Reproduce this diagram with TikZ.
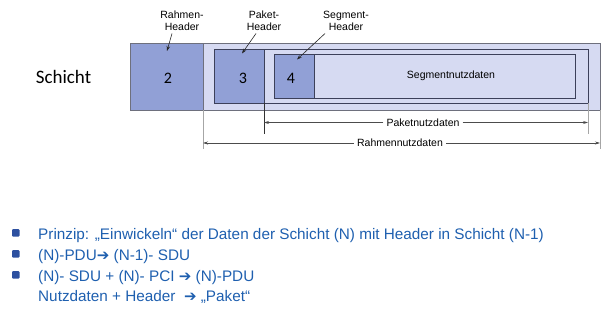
\documentclass[tikz,border=0pt]{standalone}
\usepackage{fontspec}
\setmainfont{Liberation Sans}
\newfontfamily\calfont{Carlito}
\newfontfamily\symfont{DejaVu Sans Bold}
\usetikzlibrary{arrows.meta}
\definecolor{hdrfill}{RGB}{145,160,214}
\definecolor{datafill}{RGB}{214,218,242}
\definecolor{boxline}{RGB}{60,64,90}
\definecolor{outerline}{RGB}{110,112,125}
\definecolor{txtblue}{RGB}{30,95,175}
\definecolor{bulletblue}{RGB}{45,80,160}
\newcommand{\bigarrow}{{\symfont\fontsize{15}{15}\selectfont ➔}}
\tikzset{
  hdr/.style={fill=hdrfill, draw=boxline, line width=0.8pt},
  payload/.style={fill=datafill, draw=boxline, line width=0.8pt},
  lbl/.style={font=\fontsize{10.5}{11.7}\selectfont, align=center, inner sep=0pt},
  num/.style={font=\calfont\fontsize{16}{16}\selectfont, inner sep=0pt},
  ptr/.style={-{Stealth[length=5pt,width=3.5pt]}, line width=0.6pt, draw=black!85},
  dimline/.style={-{Stealth[length=5pt,width=3pt]}, line width=0.6pt, draw=black!70},
  tick/.style={line width=0.9pt},
  bul/.style={fill=bulletblue, rounded corners=1pt},
  item/.style={font=\fontsize{15.3}{17}\selectfont, text=txtblue, anchor=base west, inner sep=0pt, align=left}
}
\begin{document}
\begin{tikzpicture}[x=1pt,y=-1pt]
\useasboundingbox (0,0) rectangle (601,315);

% frame: header 2 + payload
\draw[payload, draw=outerline] (130,43) rectangle (600,110);
\draw[hdr, draw=outerline] (130,43) rectangle (203,110);
% packet: header 3 + payload
\draw[payload] (214,49) rectangle (588,103);
\draw[hdr] (214,49) rectangle (264,103);
% segment: header 4 + payload
\draw[payload] (274,54.5) rectangle (575,98);
\draw[hdr] (274,54.5) rectangle (314,98);

\node[num] (n2) at (168,78) {2};
\node[num] (n3) at (243,78) {3};
\node[num] (n4) at (291,78) {4};
\node[lbl] (segdata) at (451,76) {Segmentnutzdaten};
\node[font=\calfont\fontsize{19}{19}\selectfont, inner sep=0pt] (schicht) at (63.5,77) {Schicht};

% header labels with pointers
\node[lbl] (rh) at (182,21) {Rahmen-\\Header};
\node[lbl] (ph) at (264,21) {Paket-\\Header};
\node[lbl] (sh) at (346,21) {Segment-\\Header};
\coordinate (rhT) at (167,51);
\coordinate (phT) at (242,53.5);
\coordinate (shT) at (297,59.5);
\draw[ptr] (172,33.5) -- (rhT);
\draw[ptr] (256,33.5) -- (phT);
\draw[ptr] (325,33.5) -- (shT);

% extent markers
\coordinate (pL0) at (264,103);
\coordinate (pL1) at (264,134);
\coordinate (pR0) at (588.5,103);
\coordinate (pR1) at (588.5,134);
\coordinate (rL0) at (203,110);
\coordinate (rL1) at (203,149);
\coordinate (rR0) at (600,110);
\coordinate (rR1) at (600,149);
\draw[tick, black!80] (pL0) -- (pL1);
\draw[tick, black!35] (pR0) -- (pR1);
\draw[tick, black!35] (rL0) -- (rL1);
\draw[tick, black!35] (rR0) -- (rR1);

\node[lbl, fill=white, inner xsep=3pt] (pn) at (423,122.5) {Paketnutzdaten};
\node[lbl, fill=white, inner xsep=3pt] (rn) at (400,143) {Rahmennutzdaten};
\draw[dimline] (pn.west) -- (264,122.5);
\draw[dimline] (pn.east) -- (588,122.5);
\draw[dimline] (rn.west) -- (203,143);
\draw[dimline] (rn.east) -- (600,143);

% bullet list
\fill[bul] (12,229) rectangle (19.5,236.5);
\fill[bul] (12,250) rectangle (19.5,257.5);
\fill[bul] (12,271) rectangle (19.5,278.5);
\node[item] (l1) at (38,239) {Prinzip: „Einwickeln“ der Daten der Schicht (N) mit Header in Schicht (N-1)};
\node[item] (l2) at (38,260) {(N)-PDU\bigarrow\ (N-1)- SDU};
\node[item] (l3) at (38,281) {(N)- SDU + (N)- PCI \bigarrow\ (N)-PDU};
\node[item] (l4) at (38,301) {Nutzdaten + Header \ \bigarrow\ „Paket“};
\end{tikzpicture}
\end{document}
